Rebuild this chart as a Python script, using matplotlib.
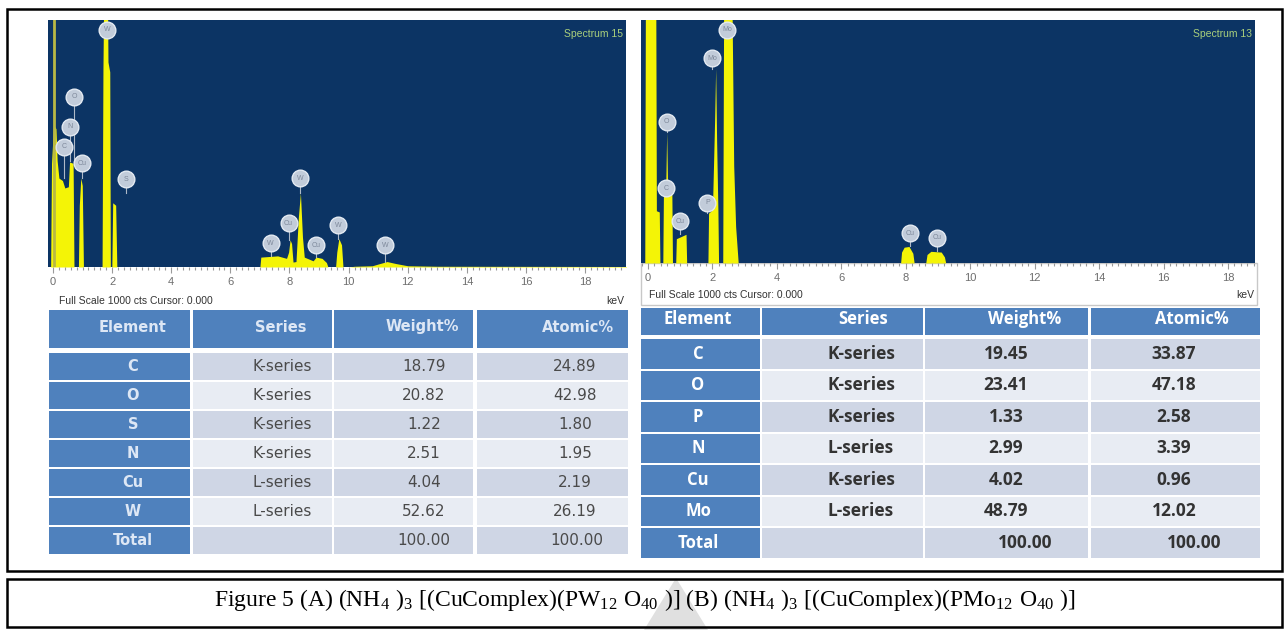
import matplotlib
matplotlib.use("Agg")
import matplotlib.pyplot as plt
from matplotlib.patches import Rectangle, Polygon
from matplotlib.ticker import MultipleLocator

plt.rcParams['font.family'] = ['Liberation Sans', 'DejaVu Sans']
plt.rcParams['mathtext.default'] = 'regular'

# ---- EDS spectrum A: (NH4)3[(CuComplex)(PW12O40)] -------------------------
spec_a_kev = [-0.20, -0.08, -0.05, 0.02, 0.10, 0.14, 0.20, 0.32, 0.40, 0.52, 0.56, 0.68, 0.71,
              0.86, 0.89, 0.94, 0.99, 1.03,
              1.66, 1.69, 1.72, 1.84, 1.86, 1.92, 1.94,
              1.99, 2.02, 2.12, 2.16,
              7.00, 7.03, 7.60, 7.90, 7.97, 8.02, 8.07, 8.12, 8.22, 8.30, 8.37, 8.44, 8.50,
              8.80, 8.90, 9.10, 9.25, 9.30,
              9.56, 9.60, 9.67, 9.76, 9.81,
              10.0, 10.2, 10.8, 11.0, 11.3, 11.6, 12.0, 13.0, 19.5]
spec_a_cts = [0, 0, 420, 575, 560, 430, 360, 350, 320, 325, 425, 420, 0,
              0, 250, 360, 330, 0,
              0, 800, 1150, 1150, 830, 790, 0,
              0, 260, 250, 0,
              0, 40, 45, 35, 60, 110, 95, 20, 22, 200, 300, 120, 40,
              25, 40, 35, 18, 0,
              0, 60, 115, 90, 0,
              0, 3, 5, 12, 22, 14, 5, 3, 2]
strobe_a_kev = 0.03

# peak markers: energy, marker height, symbol, peak top under the marker
marks_a_kev = [0.36, 0.58, 0.71, 0.99, 1.84, 2.47, 7.36, 7.97, 8.36, 8.91, 9.65, 11.23]
marks_a_cts = [487, 568, 690, 420, 960, 356, 96, 177, 359, 89, 170, 89]
marks_a_sym = ['C', 'N', 'O', 'Cu', 'W', 'S', 'W', 'Cu', 'W', 'Cu', 'W', 'W']
marks_a_top = [360, 430, 425, 360, 960, 300, 45, 110, 300, 40, 115, 22]

# ---- EDS spectrum B: (NH4)3[(CuComplex)(PMo12O40)] ------------------------
spec_b_kev = [-0.25, -0.10, -0.08, 0.24, 0.26, 0.35, 0.37,
              0.46, 0.48, 0.55, 0.58, 0.61, 0.74, 0.76,
              0.86, 0.88, 1.18, 1.20,
              1.86, 1.88, 2.00, 2.07, 2.10, 2.13, 2.17, 2.19,
              2.32, 2.35, 2.60, 2.66, 2.72, 2.80,
              7.84, 7.87, 7.95, 8.10, 8.22, 8.26,
              8.62, 8.66, 8.78, 9.10, 9.20, 9.24, 19.0]
spec_b_cts = [0, 0, 1150, 1150, 215, 210, 0,
              0, 300, 310, 540, 300, 295, 0,
              0, 100, 118, 0,
              0, 205, 220, 600, 800, 500, 215, 0,
              0, 1150, 1150, 400, 150, 0,
              0, 45, 65, 68, 40, 0,
              0, 35, 48, 45, 25, 0, 0]

marks_b_kev = [0.55, 0.58, 1.00, 1.84, 2.00, 2.45, 8.13, 8.97]
marks_b_cts = [308, 582, 171, 247, 842, 959, 123, 103]
marks_b_sym = ['C', 'O', 'Cu', 'P', 'Mo', 'Mo', 'Cu', 'Cu']
marks_b_top = [300, 540, 118, 205, 800, 959, 68, 48]

# ---- quantification tables -------------------------------------------------
table_head = ['Element', 'Series', 'Weight%', 'Atomic%']

elem_a = ['C', 'O', 'S', 'N', 'Cu', 'W']
series_a = ['K-series', 'K-series', 'K-series', 'K-series', 'L-series', 'L-series']
weight_a = [18.79, 20.82, 1.22, 2.51, 4.04, 52.62]
atomic_a = [24.89, 42.98, 1.80, 1.95, 2.19, 26.19]

elem_b = ['C', 'O', 'P', 'N', 'Cu', 'Mo']
series_b = ['K-series', 'K-series', 'K-series', 'L-series', 'K-series', 'L-series']
weight_b = [19.45, 23.41, 1.33, 2.99, 4.02, 48.79]
atomic_b = [33.87, 47.18, 2.58, 3.39, 0.96, 12.02]

total_pct = 100.00

W, H = 1288, 630
NAVY = '#0c3464'
YELLOW = '#f4f406'
HEAD_BLUE = '#4f81bd'
ROW_DARK = '#cfd6e5'
ROW_LIGHT = '#e8ecf3'

fig = plt.figure(figsize=(W / 100, H / 100), dpi=100)


def px_axes(x0, y0, x1, y1):
    return fig.add_axes([x0 / W, 1 - y1 / H, (x1 - x0) / W, (y1 - y0) / H])


def draw_spectrum(box, kev0, px_per_kev, kev, cts, mk_kev, mk_cts, mk_sym, mk_top, label):
    x0, y0, x1, y1 = box
    ax = px_axes(x0, y0, x1, y1)
    ax.set_facecolor(NAVY)
    ax.set_xlim((x0 - kev0) / px_per_kev, (x1 - kev0) / px_per_kev)
    ax.set_ylim(0, 1000)
    for s in ax.spines.values():
        s.set_visible(False)
    ax.set_yticks([])
    ax.xaxis.set_major_locator(MultipleLocator(2))
    ax.xaxis.set_minor_locator(MultipleLocator(0.2))
    ax.tick_params(axis='x', which='both', direction='out', colors='#9a9a9a',
                   labelcolor='#6e6e6e', labelsize=8, width=0.8, pad=3.5)
    ax.tick_params(axis='x', which='major', length=4)
    ax.tick_params(axis='x', which='minor', length=2.5)

    ax.fill_between(kev, cts, 0, color=YELLOW, lw=0)

    r = 32
    for e, c, s, t in zip(mk_kev, mk_cts, mk_sym, mk_top):
        if t < c - r:
            ax.plot([e, e], [t, c - r], color='#aeb9c8', lw=0.8, zorder=3)
        ax.plot(e, c, 'o', ms=12, mfc='#c2ccda', mec='#e4eaf2', mew=1.0, zorder=4,
                clip_on=False)
        ax.text(e, c, s, fontsize=5, ha='center', va='center', color='#7d889a', zorder=5)

    ax.text(0.995, 0.965, label, transform=ax.transAxes, ha='right', va='top',
            fontsize=7.5, color='#a9cf7c')
    return ax


ax_a = draw_spectrum((48, 20, 626, 267), 53, 29.56, spec_a_kev, spec_a_cts,
                     marks_a_kev, marks_a_cts, marks_a_sym, marks_a_top, 'Spectrum 15')
ax_a.axvline(strobe_a_kev, color='#b8b845', lw=2)

ax_b = draw_spectrum((641, 20, 1255, 263), 648, 32.22, spec_b_kev, spec_b_cts,
                     marks_b_kev, marks_b_cts, marks_b_sym, marks_b_top, 'Spectrum 13')

# overlay in pixel units for frames, tables and caption
ov = fig.add_axes([0, 0, 1, 1], zorder=-1)
ov.set_xlim(0, W)
ov.set_ylim(H, 0)
ov.axis('off')

# strip under spectrum B has a light frame
ov.add_patch(Rectangle((641, 263), 616, 42, fill=False, ec='#c8c8c8', lw=1))

ov.text(59, 301, 'Full Scale 1000 cts Cursor: 0.000', fontsize=7.5, color='#333333',
        ha='left', va='center')
ov.text(624, 301, 'keV', fontsize=7.5, color='#333333', ha='right', va='center')
ov.text(649, 295, 'Full Scale 1000 cts Cursor: 0.000', fontsize=7.5, color='#333333',
        ha='left', va='center')
ov.text(1254, 295, 'keV', fontsize=7.5, color='#333333', ha='right', va='center')


def draw_table(cols, head_y, row_top, row_h, head_x, cell_x, total_x,
               elem, series, weight, atomic, font, head_size, cell_size,
               head_color, cell_color, cell_weight):
    # header row
    for (c0, c1), hx, txt in zip(cols, head_x, table_head):
        ov.add_patch(Rectangle((c0, head_y[0]), c1 - c0, head_y[1] - head_y[0],
                               color=HEAD_BLUE, lw=0))
        ov.text(hx, (head_y[0] + head_y[1]) / 2 - 2, txt, family=font, fontsize=head_size,
                fontweight='bold', color=head_color, ha='center', va='center')
    rows = [[e, s, f'{w:.2f}', f'{a:.2f}'] for e, s, w, a in zip(elem, series, weight, atomic)]
    rows.append(['Total', '', f'{total_pct:.2f}', f'{total_pct:.2f}'])
    for i, row in enumerate(rows):
        top = row_top + i * row_h
        shade = ROW_DARK if i % 2 == 0 else ROW_LIGHT
        xs = total_x if i == len(rows) - 1 else cell_x
        for j, ((c0, c1), txt) in enumerate(zip(cols, row)):
            ov.add_patch(Rectangle((c0, top + 1), c1 - c0, row_h - 2,
                                   color=HEAD_BLUE if j == 0 else shade, lw=0))
            if not txt:
                continue
            if j == 0:
                ov.text(xs[j], top + row_h / 2, txt, family=font, fontsize=head_size,
                        fontweight='bold', color=head_color, ha='center', va='center')
            else:
                ov.text(xs[j], top + row_h / 2, txt, family=font, fontsize=cell_size,
                        fontweight=cell_weight, color=cell_color, ha='center', va='center')


draw_table([(49, 190), (193, 332), (334, 473), (477, 628)], (310, 348), 352, 29,
           [133, 281, 422, 578], [133, 282, 424, 575], [133, 282, 424, 577],
           elem_a, series_a, weight_a, atomic_a, ['DejaVu Sans'], 10.5, 11,
           '#dde7f5', '#4a4a4a', 'normal')

draw_table([(641, 760), (762, 923), (925, 1088), (1091, 1260)], (308, 335), 338, 31.5,
           [698, 863, 1025, 1192], [698, 861, 1006, 1174], [698, 861, 1025, 1194],
           elem_b, series_b, weight_b, atomic_b, ['Open Sans'], 12, 12.5,
           '#ffffff', '#333333', 'bold')

# frames
ov.add_patch(Rectangle((7, 9), 1275, 562, fill=False, ec='black', lw=1.8))
ov.add_patch(Rectangle((7, 579), 1275, 48, fill=False, ec='black', lw=1.8))
ov.add_patch(Polygon([(644, 630), (676, 578), (708, 630)], closed=True,
                     color='#e0e0e0', lw=0, zorder=0))

caption = (r'Figure 5 (A) (NH$_4\;$)$_3\;$[(CuComplex)(PW$_{12}\;$O$_{40}\;$)] '
           r'(B) (NH$_4\;$)$_3\;$[(CuComplex)(PMo$_{12}\;$O$_{40}\;$)]')
ov.text(645, 606, caption, family=['Liberation Serif'], fontsize=17, color='black',
        ha='center', va='baseline')

fig.savefig('out.png', dpi=100)
